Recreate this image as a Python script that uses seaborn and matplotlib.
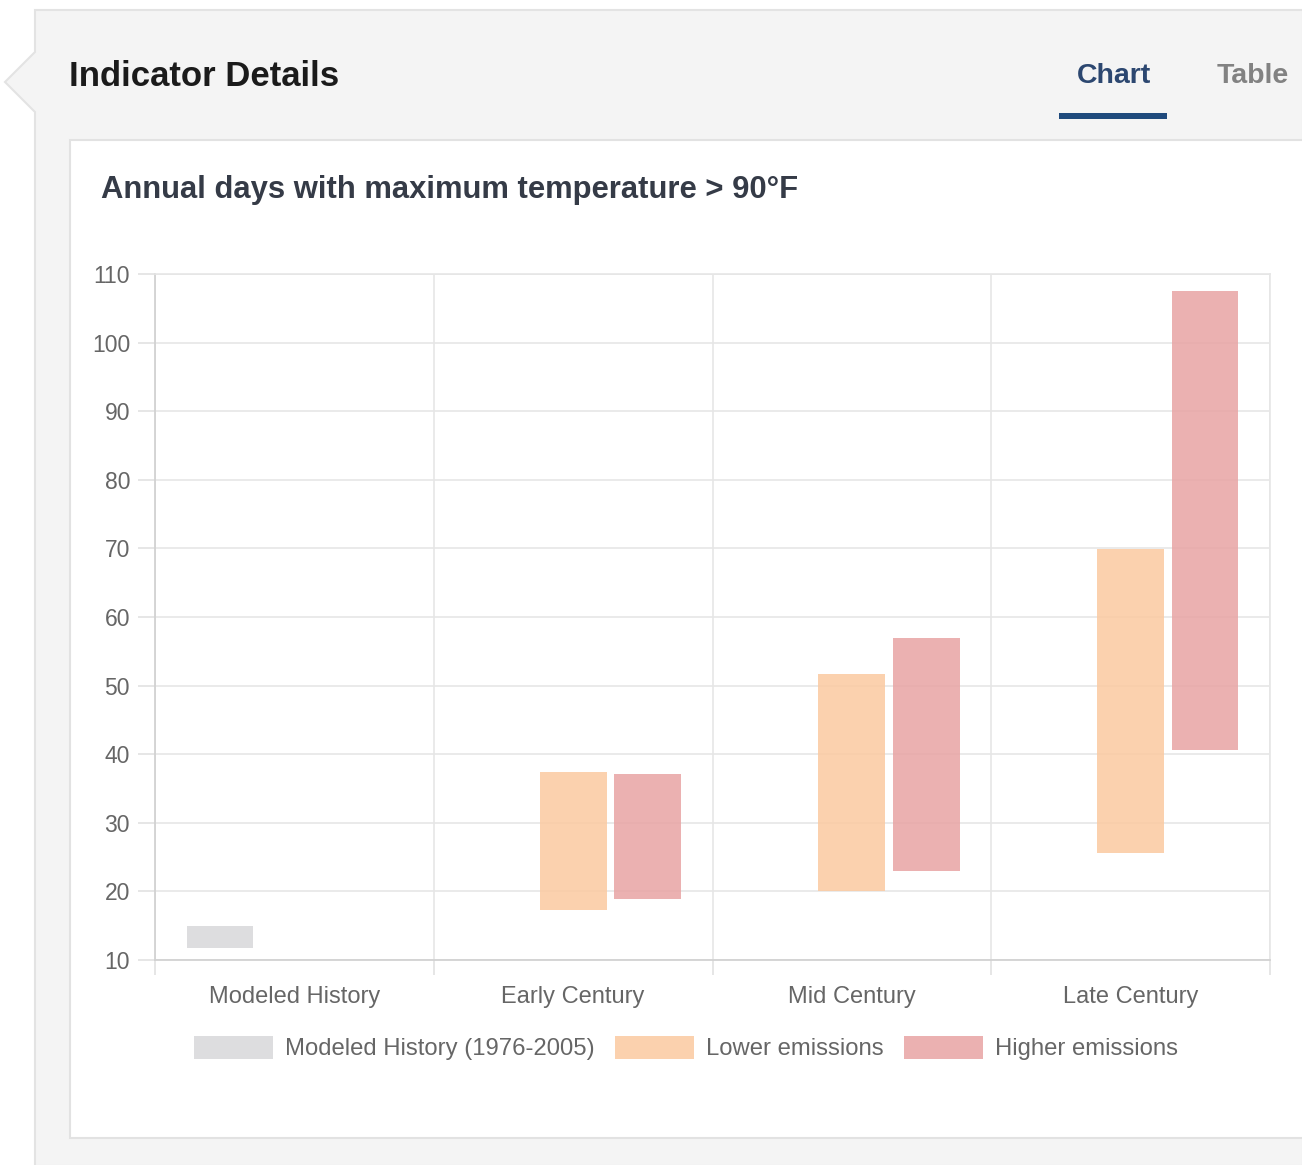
import matplotlib
matplotlib.use("Agg")
import matplotlib.pyplot as plt
from matplotlib.patches import Polygon, Rectangle, Patch
import pandas as pd
import seaborn as sns

# ---- data -------------------------------------------------------------
periods = ["Modeled History", "Early Century", "Mid Century", "Late Century"]
scenarios = ["Modeled History (1976-2005)", "Lower emissions", "Higher emissions"]

history_range = [11.8, 15.0]          # 1976-2005 modeled range
lower_low = [17.3, 20.1, 25.6]        # early, mid, late
lower_high = [37.4, 51.7, 69.9]
higher_low = [18.9, 23.0, 40.6]
higher_high = [37.1, 56.9, 107.5]

y_ticks = list(range(10, 111, 10))

bar_colors = {
    "Modeled History (1976-2005)": "#d8d8da",
    "Lower emissions": "#fbc9a0",
    "Higher emissions": "#e8a4a4",
}

rows = [dict(period=periods[0], scenario=scenarios[0],
             low=history_range[0], high=history_range[1])]
for i, p in enumerate(periods[1:]):
    rows.append(dict(period=p, scenario=scenarios[1], low=lower_low[i], high=lower_high[i]))
    rows.append(dict(period=p, scenario=scenarios[2], low=higher_low[i], high=higher_high[i]))
df = pd.DataFrame(rows)

# ---- figure -----------------------------------------------------------
sns.set_style("white")
plt.rcParams["font.family"] = ["Liberation Sans", "DejaVu Sans"]

W, H = 1302, 1165
fig = plt.figure(figsize=(W / 100, H / 100), dpi=100)
fig.patch.set_facecolor("white")


def fx(x):
    return x / W


def fy(y):
    return 1 - y / H


# outer grey panel with a left-pointing notch
panel = Polygon([(fx(35), fy(10)), (fx(1303), fy(10)), (fx(1303), fy(1166)),
                 (fx(35), fy(1166)), (fx(35), fy(112)), (fx(5), fy(82)),
                 (fx(35), fy(52))],
                closed=True, transform=fig.transFigure,
                facecolor="#f4f4f4", edgecolor="#e3e3e3", lw=1.5, zorder=0)
fig.add_artist(panel)

# white chart card
card = Rectangle((fx(70), fy(1138)), fx(1310) - fx(70), fy(140) - fy(1138),
                 transform=fig.transFigure, facecolor="white",
                 edgecolor="#e2e2e2", lw=1.5, zorder=0.5)
fig.add_artist(card)

# header texts
fig.text(fx(69), fy(77), "Indicator Details", fontsize=25, fontweight="bold",
         color="#1b1b1b", ha="left", va="center")
fig.text(fx(1114), fy(76), "Chart", fontsize=20.5, fontweight="bold",
         color="#2c4770", ha="center", va="center")
fig.text(fx(1253), fy(76), "Table", fontsize=20.5, fontweight="bold",
         color="#828282", ha="center", va="center")
fig.add_artist(Rectangle((fx(1059), fy(119)), fx(1167) - fx(1059), fy(113) - fy(119),
                         transform=fig.transFigure, facecolor="#1f4a7c",
                         edgecolor="none", zorder=2))

fig.text(fx(101), fy(190), "Annual days with maximum temperature > 90°F",
         fontsize=22.3, fontweight="bold", color="#353b47",
         ha="left", va="center")

# ---- chart ------------------------------------------------------------
ax = fig.add_axes([fx(155), fy(960), fx(1270) - fx(155), fy(274) - fy(960)])
ax.set_zorder(5)
ax.set_facecolor("none")
ax.set_axisbelow(True)

sns.barplot(data=df, x="period", y="high", hue="scenario",
            order=periods, hue_order=scenarios, palette=bar_colors,
            dodge=True, width=0.8, gap=0.1, saturation=1, alpha=0.85,
            errorbar=None, legend=False, ax=ax)

# turn each bar into a floating range bar (low -> high)
for container, scen in zip(ax.containers, scenarios):
    sub = df[df["scenario"] == scen]
    sub = sub.set_index("period").reindex([p for p in periods if p in set(sub["period"])])
    for bar, (_, r) in zip(container, sub.iterrows()):
        bar.set_y(r["low"])
        bar.set_height(r["high"] - r["low"])
        bar.set_linewidth(0)

ax.set_xlim(-0.5, 3.5)
ax.set_ylim(10, 110)
ax.set_yticks(y_ticks)
ax.set_xticks(range(len(periods)))
ax.set_xticklabels(periods)
ax.set_xticks([i - 0.5 for i in range(len(periods) + 1)], minor=True)
ax.set_xlabel("")
ax.set_ylabel("")

ax.grid(axis="y", which="major", color="#e6e6e6", lw=1.2)
ax.grid(axis="x", which="minor", color="#e6e6e6", lw=1.2)
ax.grid(axis="x", which="major", visible=False)

ax.tick_params(axis="y", which="major", length=12, width=1.2, color="#e2e2e2",
               pad=6, labelsize=16.5, labelcolor="#666666", left=True)
ax.tick_params(axis="x", which="major", length=0, pad=19,
               labelsize=17, labelcolor="#666666")
ax.tick_params(axis="x", which="minor", length=11, width=1.2,
               color="#e2e2e2", bottom=True)

for side in ["left", "bottom"]:
    ax.spines[side].set_color("#d2d2d2")
    ax.spines[side].set_linewidth(1.3)
for side in ["top", "right"]:
    ax.spines[side].set_color("#e6e6e6")
    ax.spines[side].set_linewidth(1.2)

# legend below the chart
handles = [Patch(facecolor=bar_colors[s], edgecolor="none", alpha=0.85) for s in scenarios]
leg = fig.legend(handles, scenarios, loc="center", ncol=3,
                 bbox_to_anchor=(fx(686), fy(1048)), frameon=False,
                 fontsize=17.2, handlelength=3.3, handleheight=1.15,
                 handletextpad=0.5, columnspacing=0.85, borderaxespad=0)
leg.set_zorder(6)
for t in leg.get_texts():
    t.set_color("#666666")

fig.savefig("out.png", dpi=100, facecolor=fig.get_facecolor())
